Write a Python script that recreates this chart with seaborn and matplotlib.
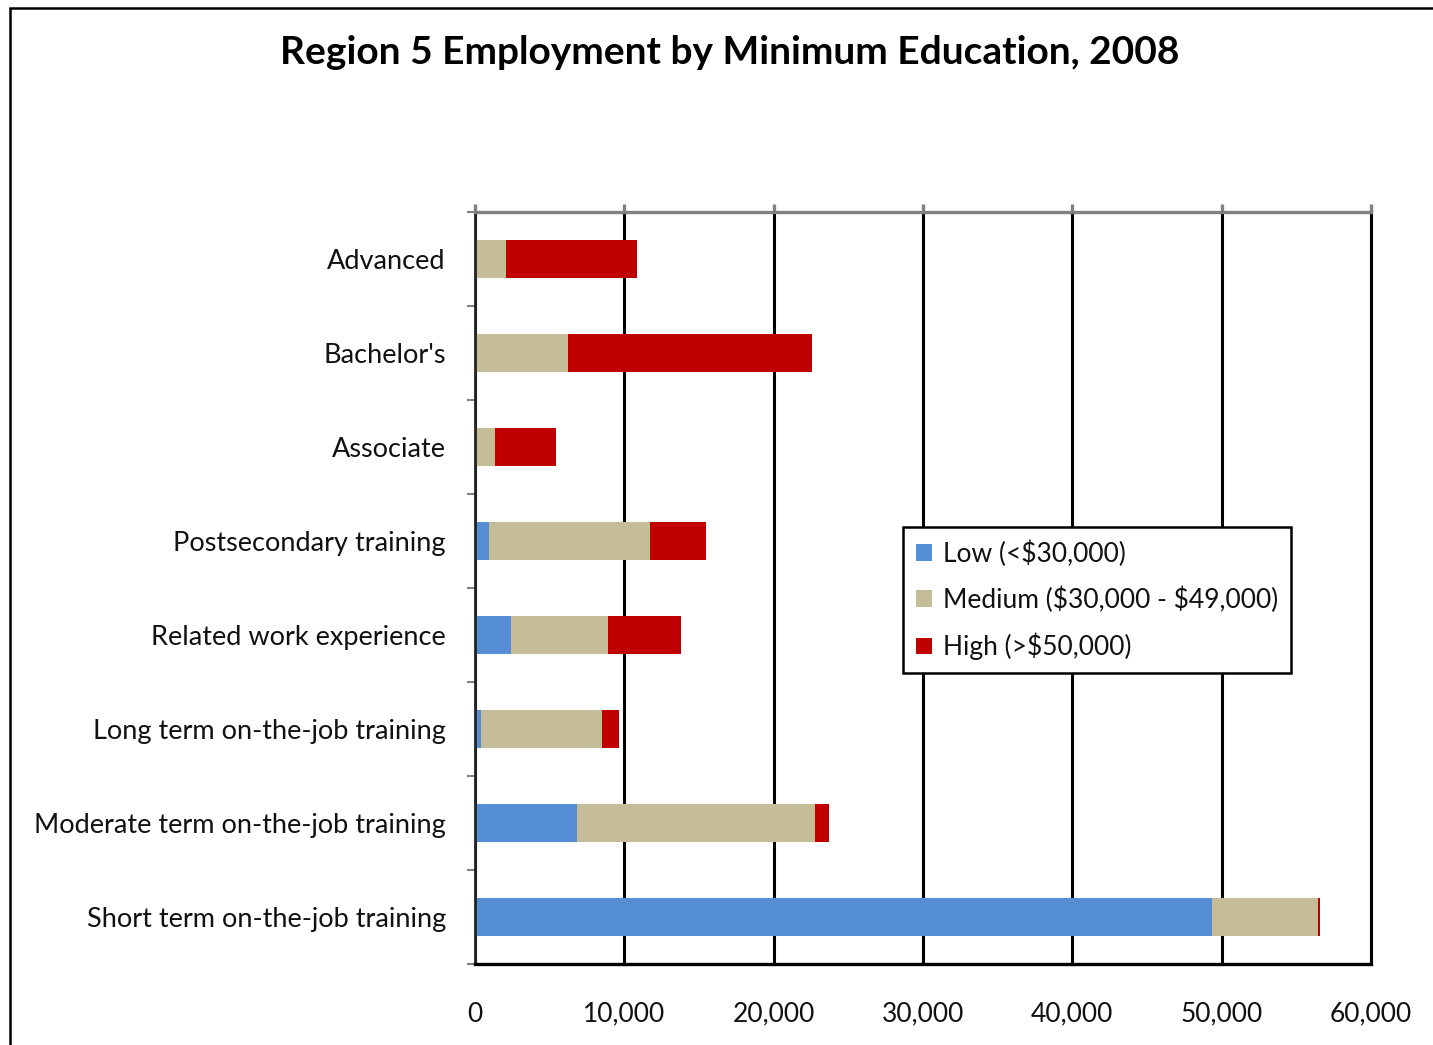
import numpy as np
import pandas as pd
import matplotlib
matplotlib.use('Agg')
import matplotlib.pyplot as plt
import seaborn as sns
from matplotlib.patches import Patch, Rectangle
from matplotlib.ticker import FuncFormatter, MultipleLocator

# 학력별 고용 (단위: 명) - 그림에서 읽은 값
categories = ["Advanced", "Bachelor's", "Associate", "Postsecondary training",
              "Related work experience", "Long term on-the-job training",
              "Moderate term on-the-job training", "Short term on-the-job training"]
low = [0, 0, 0, 950, 2420, 420, 6800, 49380]
medium = [2090, 6260, 1370, 10780, 6470, 8100, 15980, 7050]
high = [8750, 16340, 4070, 3760, 4920, 1090, 910, 130]
series_names = [r"Low (<\$30,000)", r"Medium (\$30,000 - \$49,000)", r"High (>\$50,000)"]
series_colors = ["#558ED5", "#C4BD97", "#C00000"]

df = pd.DataFrame({"cat": categories, "low": low, "medium": medium, "high": high})
df["c_low"] = df["low"]
df["c_med"] = df["low"] + df["medium"]
df["c_high"] = df["c_med"] + df["high"]

sns.set_theme(style="white")
plt.rcParams['font.family'] = ['Lato', 'DejaVu Sans']
plt.rcParams['text.color'] = 'black'

fig = plt.figure(figsize=(14.33, 10.45), dpi=100)
ax = fig.add_axes([475/1433, 1 - 964/1045, (1371-475)/1433, (964-212)/1045])

# 누적 막대: 뒤에서부터 겹쳐 그림
for col, color in zip(["c_high", "c_med", "c_low"], series_colors[::-1]):
    sns.barplot(data=df, x=col, y="cat", orient="h", color=color,
                width=0.4, saturation=1, linewidth=0, ax=ax)

ax.set_xlim(0, 60000)
ax.set_ylim(7.5, -0.5)
ax.set_xlabel("")
ax.set_ylabel("")
ax.set_axisbelow(True)
ax.xaxis.set_major_locator(MultipleLocator(10000))
ax.xaxis.set_major_formatter(FuncFormatter(lambda v, p: f"{int(v):,}"))
ax.grid(axis="x", color="black", lw=2.2)
ax.grid(axis="y", visible=False)

ax.spines["top"].set_color("#808080")
ax.spines["top"].set_linewidth(2.4)
ax.spines["bottom"].set_color("black")
ax.spines["bottom"].set_linewidth(2.4)
ax.spines["left"].set_color("#222222")
ax.spines["left"].set_linewidth(2)
ax.spines["right"].set_color("black")
ax.spines["right"].set_linewidth(2.2)

ax.tick_params(axis="x", which="major", top=True, bottom=False, labeltop=False,
               labelbottom=True, direction="out", length=6, width=2.4,
               color="#808080", pad=21, labelsize=19, labelcolor="#111111")
ax.set_yticks(range(len(categories)))
ax.set_yticklabels(categories)
ax.set_yticks(np.arange(-0.5, len(categories), 1), minor=True)
ax.tick_params(axis="y", which="major", length=0, pad=21, labelsize=19.5,
               labelcolor="#111111")
ax.tick_params(axis="y", which="minor", left=True, length=6, width=1.5,
               color="#808080")

handles = [Patch(facecolor=c, edgecolor="none") for c in series_colors]
leg = fig.legend(handles, series_names, loc="upper left",
                 bbox_to_anchor=(903/1433, 1 - 527/1045), fontsize=19,
                 frameon=True, fancybox=False, edgecolor="black",
                 framealpha=1, facecolor="white",
                 handlelength=0.6, handleheight=0.6, handletextpad=0.4,
                 labelspacing=0.75, borderpad=0.5, borderaxespad=0)
leg.get_frame().set_linewidth(1.8)
for t in leg.get_texts():
    t.set_color("#111111")

fig.text(0.509, 1 - 52/1045, "Region 5 Employment by Minimum Education, 2008",
         ha="center", va="center", fontsize=28, fontweight="bold", color="black")

fig.patches.append(Rectangle((10/1433, -0.1), 1.2, 1 - 8/1045 + 0.1,
                             transform=fig.transFigure, fill=False,
                             edgecolor="black", lw=1.8))

fig.savefig("out.png", dpi=100)
